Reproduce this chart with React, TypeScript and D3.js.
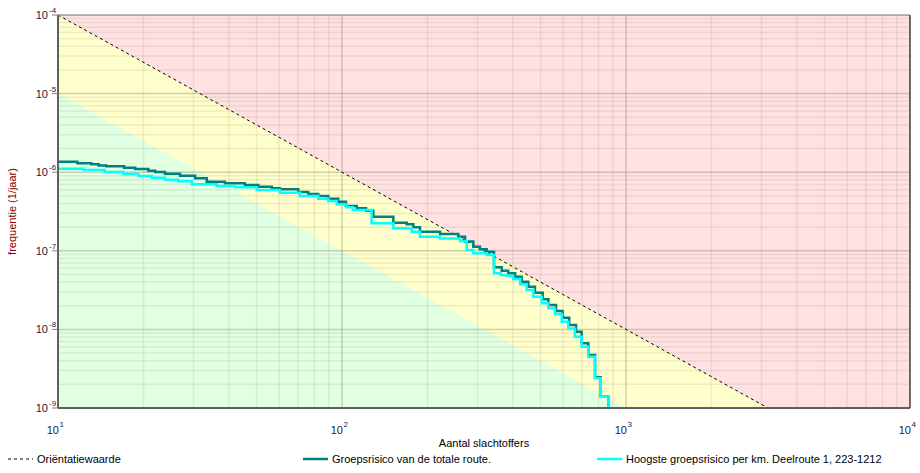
import React from 'react';
import * as d3 from 'd3';

// x: aantal slachtoffers (N), y: frequentie (1/jaar)
const xDecades = [1, 2, 3, 4];
const yDecades = [-4, -5, -6, -7, -8, -9];

// orientatiewaarde and the band one decade lower (endpoints only)
const orientatieLijn: [number, number][] = [[10, 1e-4], [10000, 1e-10]];
const groenGrens: [number, number][] = [[10, 1e-5], [10000, 1e-11]];

// Groepsrisico van de totale route
const totaleRouteN = [10, 11.7, 13.1, 13.9, 14.8, 17.1, 18.7, 20.8, 22, 23.8, 26.9, 30.4, 33.4, 38.7, 45.5, 50.7, 56.6, 60.5, 70.2, 76.1, 82.5, 89.5, 97, 103.3, 112.7, 121.5, 128.9, 151.6, 169, 178.3, 188.2, 221.4, 256.8, 271.1, 290, 306, 323.2, 342.9, 365, 385, 407, 429, 453, 478, 509, 533, 567, 598, 631, 667, 698, 737, 778, 815, 867];
const totaleRouteF = [1.36e-6, 1.30e-6, 1.26e-6, 1.22e-6, 1.19e-6, 1.14e-6, 1.10e-6, 1.045e-6, 1.006e-6, 9.57e-7, 9.03e-7, 8.36e-7, 7.57e-7, 7.22e-7, 6.87e-7, 6.54e-7, 6.24e-7, 6.06e-7, 5.60e-7, 5.28e-7, 4.98e-7, 4.60e-7, 4.2e-7, 3.72e-7, 3.47e-7, 3.24e-7, 2.72e-7, 2.28e-7, 2.17e-7, 1.99e-7, 1.75e-7, 1.64e-7, 1.51e-7, 1.31e-7, 1.13e-7, 1.045e-7, 9.74e-8, 6.17e-8, 5.58e-8, 5.17e-8, 4.68e-8, 4.05e-8, 3.49e-8, 2.93e-8, 2.42e-8, 2.04e-8, 1.71e-8, 1.41e-8, 1.14e-8, 9.35e-9, 6.65e-9, 4.72e-9, 2.46e-9, 1.39e-9, 5e-10];

// Hoogste groepsrisico per km
const hoogsteKmN = [10, 12.3, 14.6, 17.0, 19.2, 21.4, 23.8, 26.5, 29.6, 36.2, 42.0, 50.1, 60.5, 71.1, 82.5, 89.5, 95.8, 103.9, 109.1, 127.2, 151.6, 176, 188.2, 221.4, 260.4, 274.9, 290, 323.2, 342.9, 362, 380, 401, 424, 447, 472, 505, 533, 562, 594, 626, 661, 698, 737, 778, 815, 867];
const hoogsteKmF = [1.107e-6, 1.067e-6, 1.006e-6, 9.49e-7, 8.95e-7, 8.51e-7, 8.03e-7, 7.66e-7, 7.01e-7, 6.67e-7, 6.42e-7, 5.94e-7, 5.48e-7, 4.98e-7, 4.60e-7, 4.30e-7, 3.90e-7, 3.58e-7, 3.30e-7, 2.24e-7, 1.93e-7, 1.75e-7, 1.51e-7, 1.43e-7, 1.33e-7, 1.02e-7, 9.29e-8, 8.84e-8, 5.17e-8, 4.92e-8, 4.78e-8, 4.38e-8, 3.75e-8, 3.17e-8, 2.61e-8, 2.15e-8, 1.86e-8, 1.57e-8, 1.25e-8, 1.03e-8, 8.07e-9, 6.02e-9, 4.49e-9, 2.39e-9, 1.39e-9, 5e-10];

const legendLabels = ['Oriëntatiewaarde', 'Groepsrisico van de totale route.', 'Hoogste groepsrisico per km. Deelroute 1, 223-1212'];
const xTitle = 'Aantal slachtoffers';
const yTitle = 'frequentie (1/jaar)';

const W = 920;
const H = 473;
const margin = { top: 15, right: 10, bottom: 65, left: 58 };
const FONT = '"Liberation Sans", Arial, sans-serif';

const App = () => {
  const x = d3.scaleLog().domain([10, 10000]).range([margin.left, W - margin.right]);
  const y = d3.scaleLog().domain([1e-9, 1e-4]).range([H - margin.bottom, margin.top]);
  const [x0, x1] = x.range();
  const [y0, y1] = [y(1e-4), y(1e-9)];

  const minorX = xDecades.slice(0, -1).flatMap(d => d3.range(2, 10).map(k => k * 10 ** d));
  const minorY = yDecades.slice(1).flatMap(e => d3.range(2, 10).map(k => k * 10 ** e));

  const poly = (pts: [number, number][]) => pts.map(p => `${x(p[0])},${y(p[1])}`).join(' ');
  const oEnd = orientatieLijn[1];
  const gEnd = groenGrens[1];
  // red above orientatie line, green below the lower line
  const redZone = poly([orientatieLijn[0], oEnd, [10000, 1e-4]]);
  const greenZone = poly([groenGrens[0], gEnd, [10, 1e-11]]);

  const step = d3.line<[number, number]>()
    .x(d => x(d[0]))
    .y(d => y(d[1]))
    .curve(d3.curveStepAfter);
  const totale = totaleRouteN.map((n, i) => [n, totaleRouteF[i]] as [number, number]);
  const hoogste = hoogsteKmN.map((n, i) => [n, hoogsteKmF[i]] as [number, number]);

  const legendY = 459;
  const legendX = [8, 303, 597];
  const legendStyles = [
    { stroke: '#000', width: 1, dash: '3,3' },
    { stroke: '#008080', width: 2.5, dash: undefined },
    { stroke: '#00ffff', width: 2.5, dash: undefined },
  ];

  return (
    <svg width={W} height={H} style={{ position: 'absolute', left: 0, top: 0, background: '#fff' }}
      fontFamily={FONT}>
      <defs>
        <clipPath id="plot">
          <rect x={x0} y={y0} width={x1 - x0} height={y1 - y0} />
        </clipPath>
      </defs>

      <g clipPath="url(#plot)">
        <rect x={x0} y={y0} width={x1 - x0} height={y1 - y0} fill="#ffffcc" />
        <polygon points={redZone} fill="#ffe1e1" />
        <polygon points={greenZone} fill="#e1ffe1" />

        {minorX.map(v => (
          <line key={'mx' + v} x1={x(v)} x2={x(v)} y1={y0} y2={y1} stroke="rgba(150,140,130,0.17)" strokeWidth={1.5} />
        ))}
        {minorY.map(v => (
          <line key={'my' + v} x1={x0} x2={x1} y1={y(v)} y2={y(v)} stroke="rgba(150,140,130,0.17)" strokeWidth={1.5} />
        ))}
        {xDecades.map(d => (
          <line key={'gx' + d} x1={x(10 ** d)} x2={x(10 ** d)} y1={y0} y2={y1} stroke="rgba(130,120,100,0.35)" strokeWidth={1.5} />
        ))}
        {yDecades.map(e => (
          <line key={'gy' + e} x1={x0} x2={x1} y1={y(10 ** e)} y2={y(10 ** e)} stroke="rgba(130,120,100,0.35)" strokeWidth={1.5} />
        ))}

        <line x1={x(orientatieLijn[0][0])} y1={y(orientatieLijn[0][1])} x2={x(oEnd[0])} y2={y(oEnd[1])}
          stroke="#000" strokeWidth={1} strokeDasharray="3,3" />

        <path d={step(totale) ?? ''} fill="none" stroke="#008080" strokeWidth={2.5} />
        <path d={step(hoogste) ?? ''} fill="none" stroke="#00ffff" strokeWidth={2.5} />
      </g>

      {/* frame */}
      <line x1={x0} x2={x1} y1={y0} y2={y0} stroke="#a0a0a0" strokeWidth={1.5} />
      <line x1={x1} x2={x1} y1={y0} y2={y1} stroke="#404040" strokeWidth={1.5} />
      <line x1={x0} x2={x0} y1={y0} y2={y1} stroke="#606060" strokeWidth={2} />
      <line x1={x0} x2={x1} y1={y1} y2={y1} stroke="#606060" strokeWidth={2} />

      {/* y ticks */}
      {yDecades.map(e => (
        <g key={'yl' + e} transform={`translate(0,${y(10 ** e)})`}>
          <line x1={x0 - 6} x2={x0} stroke="#808080" />
          <text x={48} y={4} textAnchor="end" fontSize={11} fill="#1a1a40">10</text>
          <text x={49} y={-2} fontSize={8} fill="#1a1a40">{e}</text>
        </g>
      ))}

      {/* x ticks */}
      {xDecades.map(d => (
        <g key={'xl' + d} transform={`translate(${x(10 ** d)},${y1})`}>
          <text x={1} y={26} textAnchor="end" fontSize={11} fill="#1a1a40">10</text>
          <text x={1.5} y={19} fontSize={8} fill="#1a1a40">{d}</text>
        </g>
      ))}

      <text x={(x0 + x1) / 2} y={447} textAnchor="middle" fontSize={11} fill="#000">{xTitle}</text>
      <text transform={`translate(16,${(y0 + y1) / 2}) rotate(-90)`} textAnchor="middle" fontSize={11} fill="#800000">{yTitle}</text>

      {/* legend */}
      {legendLabels.map((label, i) => (
        <g key={label} transform={`translate(${legendX[i]},${legendY})`}>
          <line x1={0} x2={25} stroke={legendStyles[i].stroke} strokeWidth={legendStyles[i].width}
            strokeDasharray={legendStyles[i].dash} />
          <text x={29} y={4} fontSize={11} fill="#000">{label}</text>
        </g>
      ))}
    </svg>
  );
};

export default App;
